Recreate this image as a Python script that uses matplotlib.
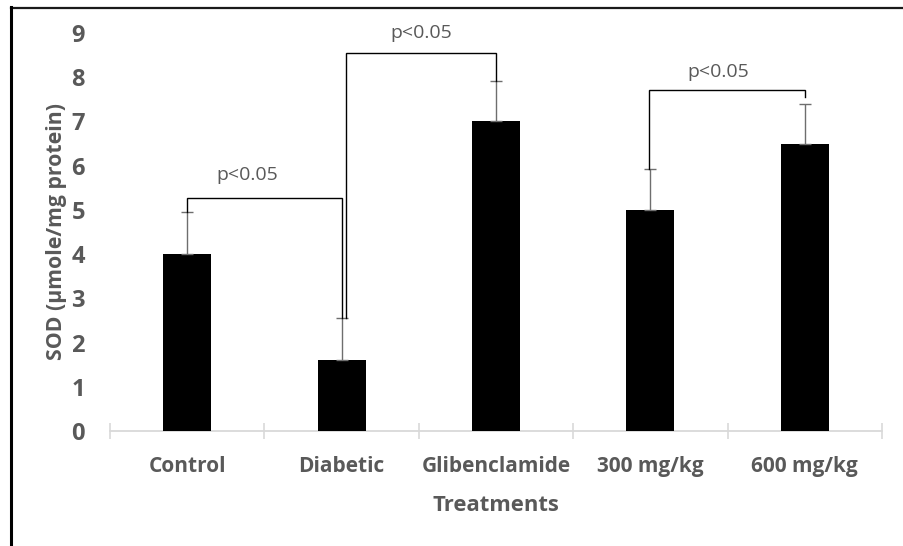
import matplotlib
matplotlib.use("Agg")
import matplotlib.pyplot as plt
from matplotlib.lines import Line2D
import numpy as np

# SOD activity per treatment group (mean and upper error)
categories = ["Control", "Diabetic", "Glibenclamide", "300 mg/kg", "600 mg/kg"]
sod_mean = [4.0, 1.6, 7.0, 5.0, 6.5]
sod_err = [0.95, 0.96, 0.92, 0.93, 0.90]

# Pairwise comparisons: (left group, right group), bracket height, label
comparisons = [(0, 1), (1, 2), (3, 4)]
bracket_heights = [5.27, 8.55, 7.71]
comparison_labels = ["p<0.05", "p<0.05", "p<0.05"]

y_ticks = [0, 1, 2, 3, 4, 5, 6, 7, 8, 9]

GREY_TEXT = "#595959"
AXIS_GREY = "#d9d9d9"
FONT = "Open Sans"

fig = plt.figure(figsize=(9.04, 5.46), dpi=100, facecolor="white")
ax = fig.add_axes([0.1217, 0.2106, 0.854, 0.729])

x = np.arange(len(categories))
ax.bar(x, sod_mean, width=0.31, color="black", zorder=3)
ax.errorbar(x, sod_mean, yerr=[np.zeros(len(sod_err)), sod_err], fmt="none",
            ecolor="#6e6e6e", elinewidth=1.0, capsize=4.5, capthick=1.0, zorder=4)

ax.set_xlim(-0.5, len(categories) - 0.5)
ax.set_ylim(0, 9)

# spines: only a light bottom axis line
for side in ("top", "right", "left"):
    ax.spines[side].set_visible(False)
ax.spines["bottom"].set_color(AXIS_GREY)
ax.spines["bottom"].set_linewidth(1.3)

ax.set_xticks(x)
ax.set_xticklabels(categories)
ax.set_xticks(np.arange(-0.5, len(categories), 1.0), minor=True)
ax.tick_params(axis="x", which="major", length=0, pad=18)
ax.tick_params(axis="x", which="minor", length=11, direction="inout",
               color=AXIS_GREY, width=1.2)
ax.set_yticks(y_ticks)
ax.tick_params(axis="y", length=0, pad=18)

for lbl in ax.get_xticklabels() + ax.get_yticklabels():
    lbl.set_fontfamily(FONT)
    lbl.set_fontweight("bold")
    lbl.set_color(GREY_TEXT)
for lbl in ax.get_xticklabels():
    lbl.set_fontsize(15)
for lbl in ax.get_yticklabels():
    lbl.set_fontsize(17)

ax.set_ylabel("SOD (µmole/mg protein)", fontfamily=FONT, fontweight="bold",
              fontsize=15.3, color=GREY_TEXT, labelpad=3)
ax.set_xlabel("Treatments", fontfamily=FONT, fontweight="bold",
              fontsize=15.8, color=GREY_TEXT, labelpad=13)

# significance brackets
leg_offsets = [(0.0, 0.0), (0.026, 0.0), (-0.01, 0.0)]
leg_gaps = [(0.0, 0.0), (0.0, 0.0), (0.0, 0.16)]
label_x = [0.39, 1.515, 3.44]
label_y = [5.79, 9.0, 8.12]
for (i, j), h, (dl, dr), (gl, gr), lx, ly, txt in zip(
        comparisons, bracket_heights, leg_offsets, leg_gaps,
        label_x, label_y, comparison_labels):
    xl, xr = x[i] + dl, x[j] + dr
    yl = sod_mean[i] + sod_err[i] + gl
    yr = sod_mean[j] + sod_err[j] + gr
    ax.plot([xl, xl, xr, xr], [yl, h, h, yr], color="black", lw=1.0,
            zorder=5, clip_on=False, solid_joinstyle="miter")
    ax.text(lx, ly, txt, ha="center", va="center", fontfamily=FONT,
            fontsize=14, color=GREY_TEXT, clip_on=False)

# frame lines on the top and left of the figure
fig.add_artist(Line2D([11 / 904, 1.0], [1 - 7.5 / 546, 1 - 7.5 / 546],
                      transform=fig.transFigure, color="#1a1a1a", lw=1.6))
fig.add_artist(Line2D([11 / 904, 11 / 904], [0.0, 1 - 7 / 546],
                      transform=fig.transFigure, color="black", lw=2.2))

fig.savefig("out.png", dpi=100, facecolor="white")
